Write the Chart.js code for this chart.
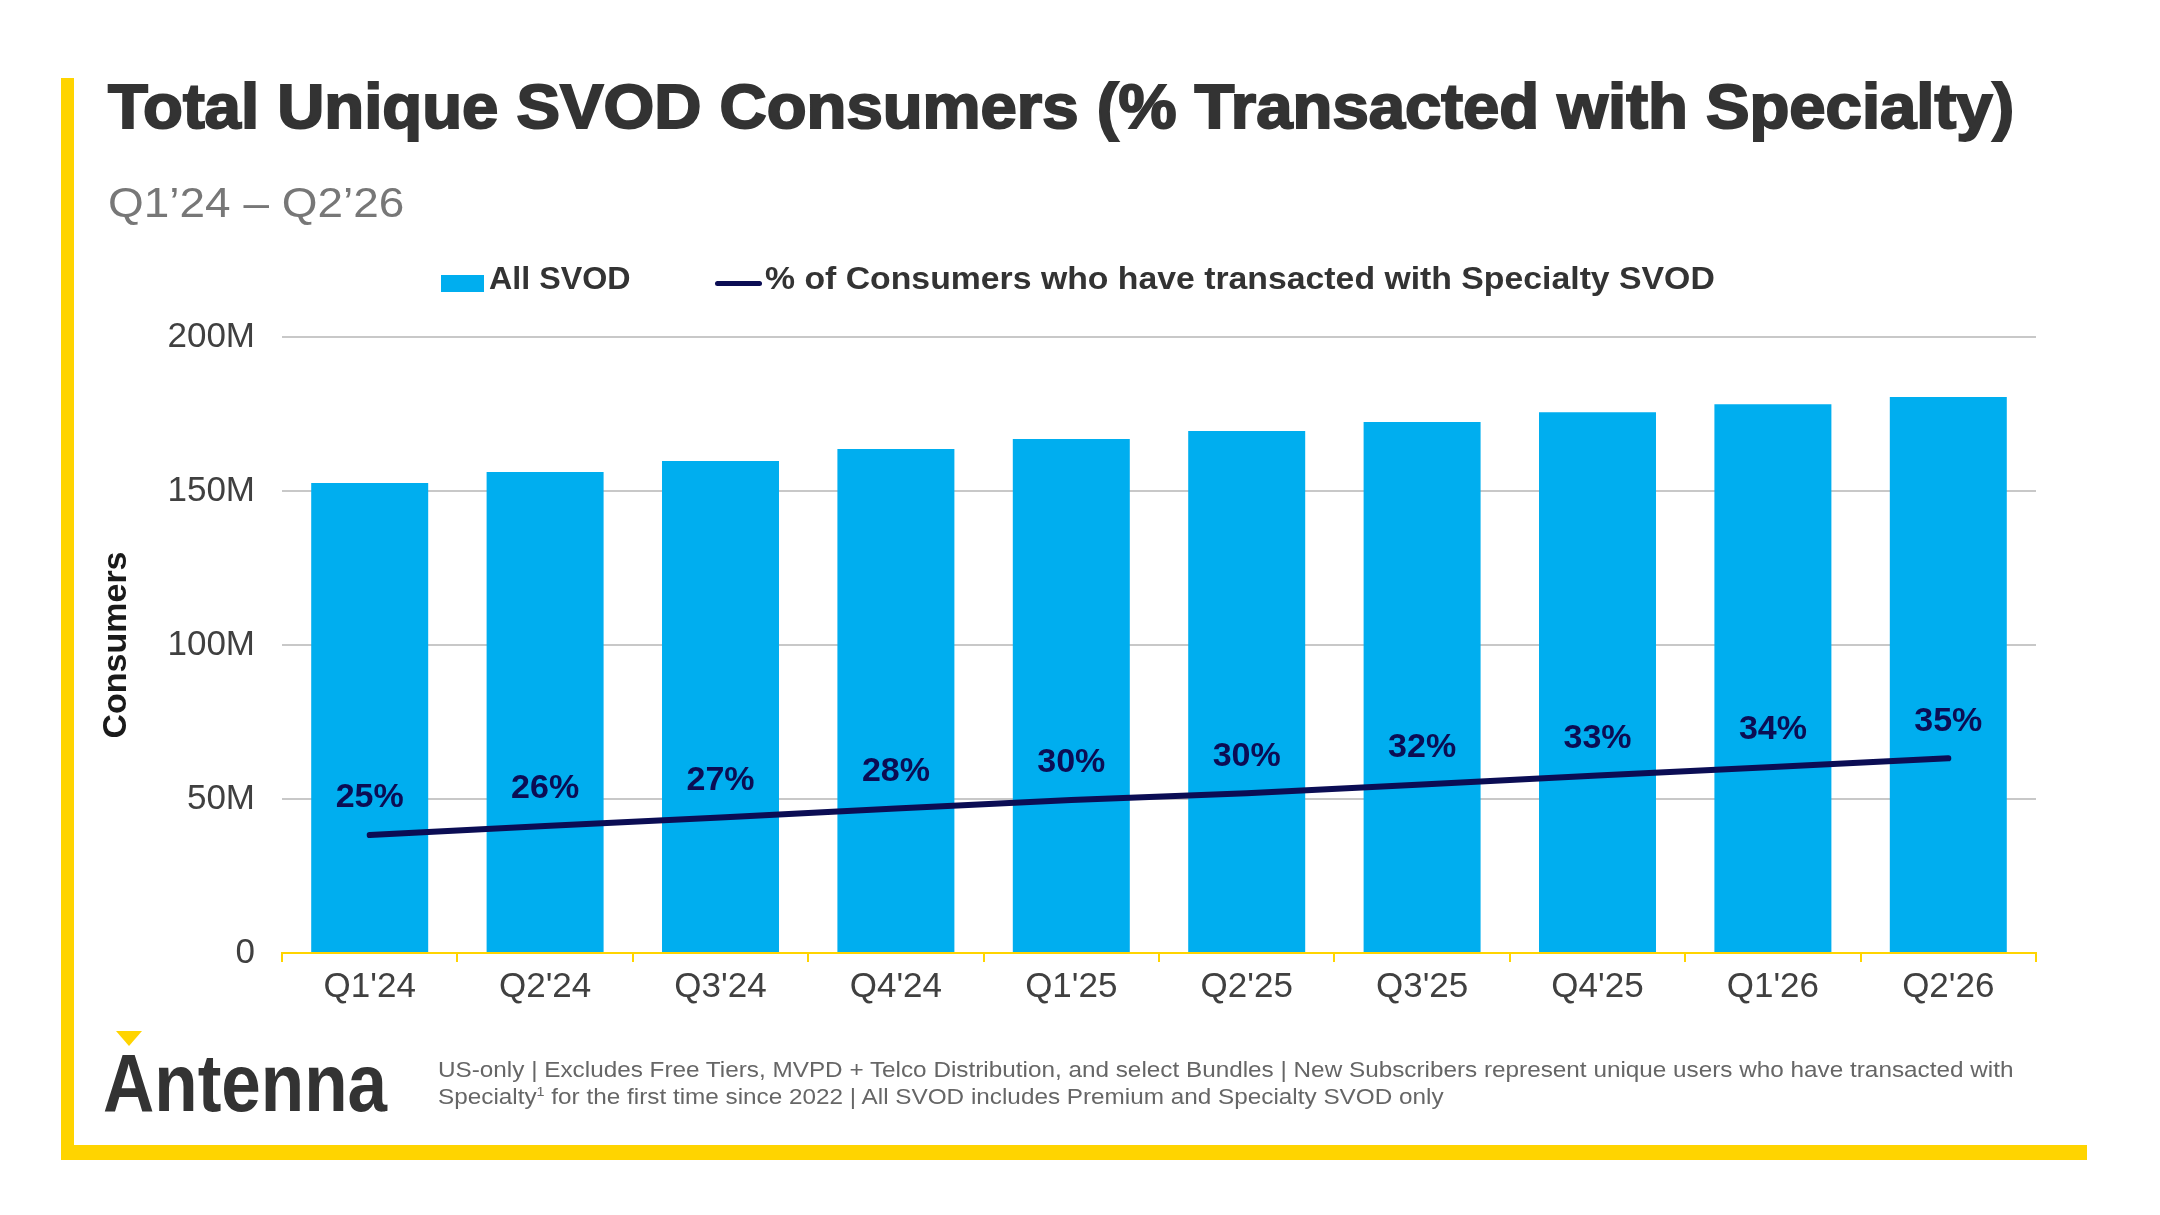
<!DOCTYPE html>
<html>
<head>
<meta charset="utf-8">
<title>Total Unique SVOD Consumers</title>
<script src="https://cdn.jsdelivr.net/npm/chart.js@4.4.1/dist/chart.umd.min.js"></script>
<style>
    html, body { margin: 0; padding: 0; background: #fff; }
    body {
        width: 2160px; height: 1215px; position: relative; overflow: hidden;
        font-family: 'Liberation Sans', Arial, sans-serif;
    }
    #chartWrap { position: absolute; left: 0; top: 0; width: 2160px; height: 1215px; }
    .abs { position: absolute; white-space: nowrap; transform-origin: 0 0; display: inline-block; }
    .frame-left { position: absolute; left: 61px; top: 78px; width: 13px; height: 1082px; background: #FFD400; }
    .frame-bottom { position: absolute; left: 61px; top: 1145px; width: 2026px; height: 15px; background: #FFD400; }
    #title {
        left: 108px; top: 75px; font-size: 63px; line-height: 63px; font-weight: bold;
        color: #333; -webkit-text-stroke: 2px #333;
    }
    #subtitle { left: 108px; top: 181px; font-size: 43px; line-height: 43px; color: #777; }
    .legend-text { top: 262px; font-size: 32px; line-height: 32px; font-weight: bold; color: #333; }
    #legBar { position: absolute; left: 441px; top: 275px; width: 43px; height: 17px; background: #00AEEF; }
    #legLine { position: absolute; left: 715px; top: 281px; width: 47px; height: 5px; background: #0b0d54; border-radius: 3px; }
    #legText1 { left: 489px; }
    #legText2 { left: 765px; }
    .note { left: 438px; font-size: 22px; line-height: 27px; color: #666; }
    #note1 { top: 1056px; }
    #note2 { top: 1083px; }
    .note sup { font-size: 13px; line-height: 0; vertical-align: 8px; }
    #logo { left: 103px; top: 1042px; font-size: 82px; line-height: 82px; font-weight: bold; color: #333; }
    #logoMark {
        position: absolute; left: 116px; top: 1031px; width: 0; height: 0;
        border-left: 13px solid transparent; border-right: 13px solid transparent;
        border-top: 15px solid #FFD400;
    }
</style>
</head>
<body>
<div id="chartWrap"><canvas id="svodChart" width="2160" height="1215"></canvas></div>

<div class="frame-left"></div>
<div class="frame-bottom"></div>

<div id="title" class="abs">Total Unique SVOD Consumers (% Transacted with Specialty)</div>
<div id="subtitle" class="abs">Q1’24 – Q2’26</div>

<div id="legBar"></div>
<div id="legText1" class="abs legend-text">All SVOD</div>
<div id="legLine"></div>
<div id="legText2" class="abs legend-text">% of Consumers who have transacted with Specialty SVOD</div>

<div id="logoMark"></div>
<div id="logo" class="abs">Antenna</div>
<div id="note1" class="abs note">US-only | Excludes Free Tiers, MVPD + Telco Distribution, and select Bundles | New Subscribers represent unique users who have transacted with</div>
<div id="note2" class="abs note">Specialty<sup>1</sup> for the first time since 2022 | All SVOD includes Premium and Specialty SVOD only</div>

<script>
// Chart data (millions of consumers)
const quarters = ["Q1'24", "Q2'24", "Q3'24", "Q4'24", "Q1'25", "Q2'25", "Q3'25", "Q4'25", "Q1'26", "Q2'26"];
const allSvod = [152.6, 156.2, 159.7, 163.6, 166.9, 169.5, 172.4, 175.6, 178.2, 180.5];
const specialtyConsumers = [38.3, 41.2, 44.0, 46.9, 49.7, 51.9, 54.7, 57.6, 60.4, 63.2];
const specialtyPct = ['25%', '26%', '27%', '28%', '30%', '30%', '32%', '33%', '34%', '35%'];
const yTickValues = [0, 50, 100, 150, 200];
const yTickLabels = ['0', '50M', '100M', '150M', '200M'];

const FONT = "'Liberation Sans', Arial, sans-serif";
const NAVY = '#0b0d54';
const YELLOW = '#FFD400';

// Squeeze a text element horizontally to a given width
function fitWidth(el, target) {
    const w = el.offsetWidth;
    const s = target / w;
    el.style.transform = 'scaleX(' + s + ')';
    return s;
}

// Percent labels above the line points
const pctLabels = {
    id: 'pctLabels',
    afterDatasetsDraw(chart) {
        const meta = chart.getDatasetMeta(1);
        const ctx = chart.ctx;
        ctx.save();
        ctx.font = 'bold 34px ' + FONT;
        ctx.fillStyle = NAVY;
        ctx.textAlign = 'center';
        ctx.textBaseline = 'middle';
        meta.data.forEach((pt, i) => {
            ctx.fillText(specialtyPct[i], pt.x, pt.y - 37);
        });
        ctx.restore();
    }
};

function drawChart() {
    Chart.defaults.font.family = FONT;
    const ctx = document.getElementById('svodChart').getContext('2d');
    new Chart(ctx, {
        type: 'bar',
        data: {
            labels: quarters,
            datasets: [
                {
                    type: 'bar',
                    label: 'All SVOD',
                    data: allSvod,
                    backgroundColor: '#00AEEF',
                    categoryPercentage: 1,
                    barPercentage: 0.667,
                    order: 1
                },
                {
                    type: 'line',
                    label: '% of Consumers who have transacted with Specialty SVOD',
                    data: specialtyConsumers,
                    borderColor: NAVY,
                    borderWidth: 6,
                    borderCapStyle: 'round',
                    pointRadius: 0,
                    tension: 0,
                    fill: false,
                    order: 0
                }
            ]
        },
        options: {
            responsive: false,
            animation: false,
            devicePixelRatio: 1,
            layout: { padding: { left: 96, right: 124, top: 337, bottom: 202 } },
            plugins: {
                legend: { display: false },
                tooltip: { enabled: false }
            },
            scales: {
                x: {
                    afterFit: s => { s.height = 60; },
                    grid: {
                        display: true, drawOnChartArea: false, drawTicks: true,
                        tickLength: 9, color: YELLOW, lineWidth: 2, offset: true
                    },
                    border: { display: true, color: YELLOW, width: 2 },
                    ticks: { padding: 4, color: '#404040', font: { size: 35 } }
                },
                y: {
                    min: 0,
                    max: 200,
                    afterBuildTicks: s => { s.ticks = yTickValues.map(v => ({ value: v })); },
                    afterFit: s => { s.width = 186; },
                    grid: { color: '#c8c8c8', lineWidth: 2, drawTicks: false },
                    border: { display: false },
                    ticks: {
                        padding: 27,
                        color: '#404040',
                        font: { size: 35 },
                        callback: v => yTickLabels[yTickValues.indexOf(v)]
                    },
                    title: {
                        display: true,
                        text: 'Consumers',
                        color: '#1a1a1a',
                        font: { size: 34, weight: 'bold', lineHeight: 1.2 },
                        padding: { top: 0, bottom: 0 }
                    }
                }
            }
        },
        plugins: [pctLabels]
    });
}

function layoutText() {
    fitWidth(document.getElementById('title'), 1906);
    fitWidth(document.getElementById('subtitle'), 296);
    fitWidth(document.getElementById('legText1'), 141);
    fitWidth(document.getElementById('legText2'), 950);
    fitWidth(document.getElementById('logo'), 284);
    const s = fitWidth(document.getElementById('note1'), 1575);
    document.getElementById('note2').style.transform = 'scaleX(' + s + ')';
}

document.fonts.ready.then(function() {
    layoutText();
    drawChart();
});
</script>
</body>
</html>
